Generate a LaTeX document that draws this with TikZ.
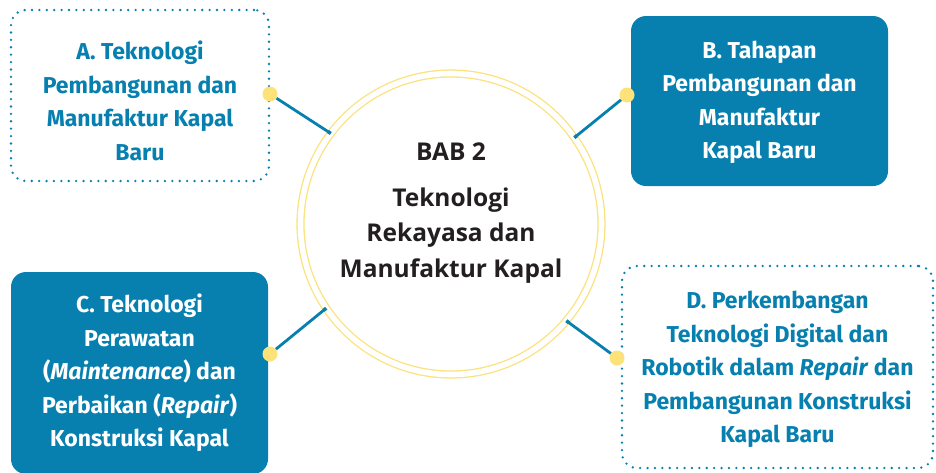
\documentclass[tikz,border=0pt]{standalone}
\usepackage{fontspec}
\setmainfont{Fira Sans}
\newfontfamily\hubfont{Open Sans}
\usetikzlibrary{arrows.meta, positioning}
\definecolor{babblue}{HTML}{0780B0}
\definecolor{ringyellow}{HTML}{FBE27C}
\definecolor{knobyellow}{HTML}{FDE27A}
\definecolor{hubdark}{HTML}{231F20}
\tikzstyle{frame} = [rectangle, rounded corners=15pt, inner sep=0pt]
\tikzstyle{filled} = [frame, fill=babblue]
\tikzstyle{dotbox} = [frame, draw=babblue, line width=2.6pt, line cap=round, dash pattern=on 0pt off 7.4pt]
\tikzstyle{topic} = [text centered, align=center, inner sep=0pt, font=\fontsize{23}{33.5}\selectfont\bfseries]
\tikzstyle{hub} = [circle, draw=ringyellow, line width=1.3pt, double=white, double distance=5.6pt, minimum size=301pt, inner sep=0pt, outer sep=0pt]
\tikzstyle{hubtitle} = [text centered, align=center, inner sep=0pt, text=hubdark, font=\hubfont\fontsize{24.5}{35.5}\selectfont\bfseries]
\tikzstyle{knob} = [circle, fill=knobyellow, minimum size=15pt, inner sep=0pt]
\tikzstyle{link} = [line width=2.8pt, babblue, -{Square[length=3.5pt,width=3.5pt]}]

\begin{document}
\begin{tikzpicture}[x=1pt, y=-1pt]
	\useasboundingbox (0,0) rectangle (936,472);

	% Centre circle
	\node (hub) [hub] at (451,224) {};
	\node (hubtext) [hubtitle] at ([yshift=11pt]hub.center) {BAB 2\\[10pt]Teknologi\\Rekayasa dan\\Manufaktur Kapal};

	% Boxes
	\node (boxA) [dotbox, minimum width=258pt, minimum height=171pt] at (140,95.5) {};
	\node (textA) [topic, text=babblue] at ([yshift=-5.5pt]boxA.center) {A. Teknologi\\Pembangunan dan\\Manufaktur Kapal\\Baru};

	\node (boxB) [filled, minimum width=257pt, minimum height=170pt] at (759.5,101) {};
	\node (textB) [topic, text=white] at ([yshift=-1.5pt]boxB.center) {B. Tahapan\\Pembangunan dan\\Manufaktur\\Kapal Baru};

	\node (boxC) [filled, minimum width=257pt, minimum height=202pt] at (139.5,373) {};
	\node (textC) [topic, text=white] at (boxC.center) {C. Teknologi\\Perawatan\\(\textit{Maintenance}) dan\\Perbaikan (\textit{Repair})\\Konstruksi Kapal};

	\node (boxD) [dotbox, minimum width=311pt, minimum height=202pt] at (777.5,367) {};
	\node (textD) [topic, text=babblue] at ([yshift=-2.5pt]boxD.center) {D. Perkembangan\\Teknologi Digital dan\\Robotik dalam \textit{Repair} dan\\Pembangunan Konstruksi\\Kapal Baru};

	% Knobs
	\node (knobA) [knob] at (270,94) {};
	\node (knobB) [knob] at (627,95) {};
	\node (knobC) [knob] at (270,354) {};
	\node (knobD) [knob] at (617,358) {};

	% Links
	\draw[link] (knobA) -- (hub.143.6);
	\draw[link] (knobB) -- (hub.35.1);
	\draw[link] (knobC) -- (hub.214.2);
	\draw[link] (knobD) -- (hub.320.9);

\end{tikzpicture}
\end{document}
